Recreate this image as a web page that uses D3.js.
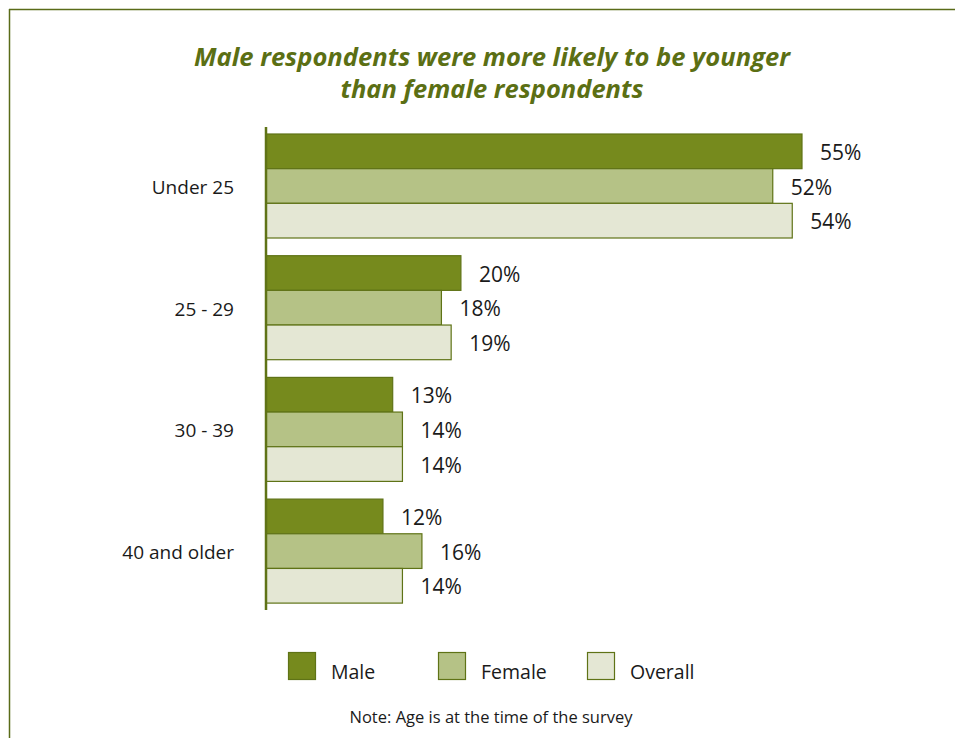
<!DOCTYPE html>
<html>
<head>
<meta charset="utf-8">
<script src="https://cdn.jsdelivr.net/npm/d3@7"></script>
<style>
  html, body { margin: 0; padding: 0; background: #fff; }
  svg { display: block; }
  text { font-family: "Open Sans", "Noto Sans", sans-serif; fill: #1a1a1a; }
</style>
</head>
<body>
<svg id="chart" width="955" height="738"></svg>
<script>
// Age groups of survey respondents, percent by sex
const categories = ["Under 25", "25 - 29", "30 - 39", "40 and older"];
const seriesNames = ["Male", "Female", "Overall"];
const male = [55, 20, 13, 12];
const female = [52, 18, 14, 16];
const overall = [54, 19, 14, 14];
const titleLines = ["Male respondents were more likely to be younger", "than female respondents"];
const noteText = "Note: Age is at the time of the survey";

const fills = ["#768a1d", "#b5c286", "#e4e7d4"];
const strokeColor = "#5f7316";
const frameColor = "#5a6b18";

const svg = d3.select("#chart");
const W = 955, H = 738;

// frame (top and left rules)
svg.append("line").attr("x1", 9).attr("x2", W).attr("y1", 9.5).attr("y2", 9.5)
  .attr("stroke", frameColor).attr("stroke-width", 1.5);
svg.append("line").attr("x1", 9.5).attr("x2", 9.5).attr("y1", 9).attr("y2", H)
  .attr("stroke", frameColor).attr("stroke-width", 1.5);

// title
const title = svg.append("g");
title.selectAll("text").data(titleLines).join("text")
  .attr("x", 492)
  .attr("y", (d, i) => 66 + i * 32)
  .attr("text-anchor", "middle")
  .attr("textLength", (d, i) => i === 0 ? 596 : 303)
  .attr("lengthAdjust", "spacingAndGlyphs")
  .style("font-family", "'Open Sans', sans-serif")
  .style("font-size", "25px")
  .style("font-weight", 700)
  .style("font-style", "italic")
  .style("fill", "#5b6f14")
  .text(d => d);

// scales
const x0 = 266;
const x = d3.scaleLinear().domain([0, 55]).range([x0, 802]);
const y = d3.scaleBand().domain(categories)
  .range([134, 134 + 4 * 104 + 3 * 17.7])
  .paddingInner(17.7 / 121.7).paddingOuter(0);
const ySub = d3.scaleBand().domain(seriesNames).range([0, y.bandwidth()]);

const rows = categories.map((c, i) => ({
  cat: c,
  vals: [male[i], female[i], overall[i]]
}));

const groups = svg.append("g").selectAll("g").data(rows).join("g")
  .attr("transform", d => `translate(0,${y(d.cat)})`);

groups.selectAll("rect").data(d => d.vals.map((v, j) => ({ v, s: seriesNames[j], j })))
  .join("rect")
  .attr("x", x(0))
  .attr("y", d => ySub(d.s))
  .attr("width", d => x(d.v) - x(0))
  .attr("height", ySub.bandwidth())
  .attr("fill", d => fills[d.j])
  .attr("stroke", strokeColor)
  .attr("stroke-width", 1.2);

groups.selectAll("text.val").data(d => d.vals.map((v, j) => ({ v, s: seriesNames[j] })))
  .join("text")
  .attr("class", "val")
  .attr("x", d => x(d.v) + 18)
  .attr("y", d => ySub(d.s) + ySub.bandwidth() / 2 + 1)
  .attr("dy", "0.36em")
  .style("font-size", "21px")
  .text(d => d.v + "%");

// category labels
svg.append("g").selectAll("text").data(categories).join("text")
  .attr("x", 234)
  .attr("y", d => y(d) + y.bandwidth() / 2 + 1)
  .attr("dy", "0.36em")
  .attr("text-anchor", "end")
  .style("font-size", "19px")
  .text(d => d);

// vertical axis line
svg.append("line")
  .attr("x1", x0).attr("x2", x0)
  .attr("y1", 127).attr("y2", 610)
  .attr("stroke", strokeColor).attr("stroke-width", 2.5);

// legend
const legendX = [288, 438, 587];
const legend = svg.append("g").selectAll("g").data(seriesNames).join("g")
  .attr("transform", (d, i) => `translate(${legendX[i]},652)`);
legend.append("rect")
  .attr("x", 0.5).attr("y", 0.5).attr("width", 27).attr("height", 27)
  .attr("fill", (d, i) => fills[i])
  .attr("stroke", strokeColor).attr("stroke-width", 1.2);
legend.append("text")
  .attr("x", 43).attr("y", 27)
  .style("font-size", "19.5px")
  .text(d => d);

// note
svg.append("text")
  .attr("x", 491).attr("y", 723)
  .attr("text-anchor", "middle")
  .style("font-size", "16.5px")
  .text(noteText);
</script>
</body>
</html>
